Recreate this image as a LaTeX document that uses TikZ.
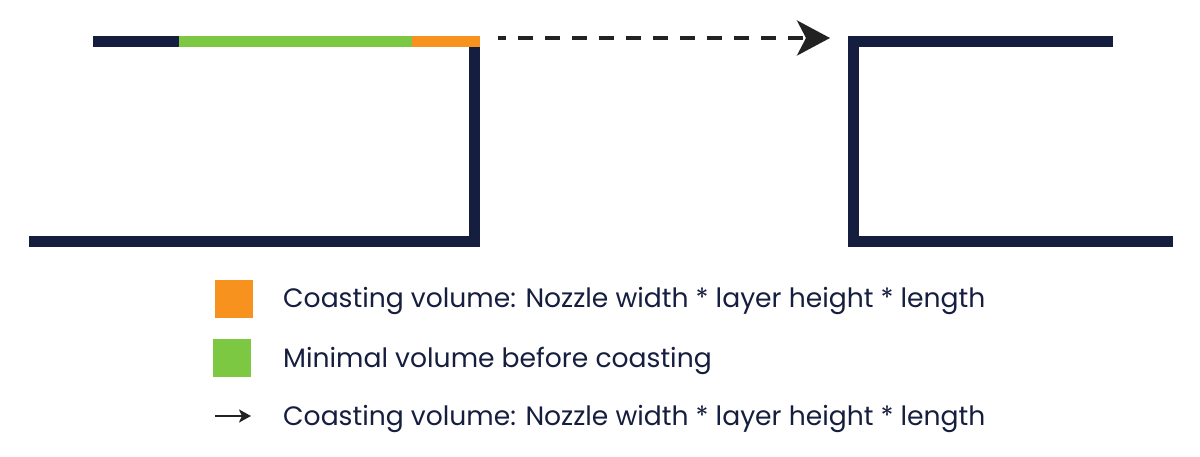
\documentclass[tikz,border=0pt]{standalone}
\usepackage{fontspec}
\setmainfont{Poppins}
\usetikzlibrary{arrows.meta}
\definecolor{navy}{HTML}{161E3F}
\definecolor{lgreen}{HTML}{7DC843}
\definecolor{lorange}{HTML}{F7921E}
\definecolor{arrowblk}{HTML}{222222}
\tikzset{
  track/.style={line width=11pt, line join=miter, line cap=butt},
  legsq/.style={minimum size=38pt, inner sep=0pt, draw=none},
  legtext/.style={anchor=base west, inner sep=0pt, font=\fontsize{26.6}{32}\selectfont, text=navy},
}
\begin{document}
\begin{tikzpicture}[x=1pt,y=-1pt]
\useasboundingbox[fill=white] (0,0) rectangle (1200,457);
% left shape
\coordinate (lstart) at (93,41.5);
\coordinate (lgreen) at (179,41.5);
\coordinate (lorange) at (412,41.5);
\coordinate (lend) at (480,41.5);
\draw[track, navy] (474.5,47) -- (474.5,241.5) -- (29,241.5);
\draw[track, navy] (lstart) -- (lgreen);
\draw[track, lgreen] (lgreen) -- (lorange);
\draw[track, lorange] (lorange) -- (lend);
% right shape
\draw[track, navy] (1113,41.5) -- (853,41.5) -- (853,241.5) -- (1173,241.5);
% travel arrow
\coordinate (astart) at (498,38);
\coordinate (aend) at (830,38);
\draw[arrowblk, line width=4pt, dash pattern=on 8pt off 12pt on 15pt off 12pt on 15pt off 12pt on 15pt off 12pt on 15pt off 12pt on 15pt off 12pt on 15pt off 12pt on 15pt off 12pt on 15pt off 12pt on 15pt off 12pt on 15pt off 12pt on 15pt off 12pt on 15pt off 12pt,
  -{Stealth[length=33pt,width=35pt,inset=9pt]}] (astart) -- (aend);
% legend
\node[legsq, fill=lorange] (sqo) at (234,299) {};
\node[legsq, fill=lgreen] (sqg) at (232,358) {};
\coordinate (la1) at (215,416);
\coordinate (la2) at (251,416);
\draw[arrowblk, line width=2pt, -{Stealth[length=12pt,width=13pt,inset=3pt]}] (la1) -- (la2);
\node[legtext] (t1) at (283,308) {Coasting volume: Nozzle width * layer height * length};
\node[legtext] (t2) at (283,367.5) {Minimal volume before coasting};
\node[legtext] (t3) at (283,425.5) {Coasting volume: Nozzle width * layer height * length};
\end{tikzpicture}
\end{document}
